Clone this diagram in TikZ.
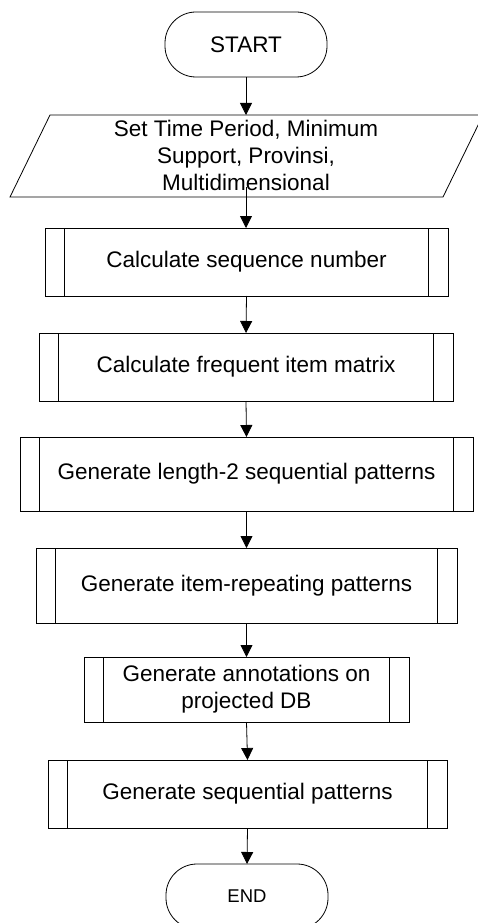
\documentclass[tikz,border=0pt]{standalone}
\usepackage{fontspec}
\setmainfont{Liberation Sans}
\usetikzlibrary{arrows.meta}
\begin{document}
\begin{tikzpicture}[x=1pt,y=-1pt,
  every node/.style={font=\fontsize{22.5}{27}\selectfont, inner sep=0pt, outer sep=0pt},
  term/.style={draw, line width=0.8pt, rounded corners=31pt, minimum width=162pt, minimum height=65pt},
  proc/.style={draw, line width=0.8pt, align=center, minimum height=#1,
    path picture={
      \draw[line width=0.8pt] ([xshift=19.5pt]path picture bounding box.north west) -- ([xshift=19.5pt]path picture bounding box.south west);
      \draw[line width=0.8pt] ([xshift=-19.5pt]path picture bounding box.north east) -- ([xshift=-19.5pt]path picture bounding box.south east);
    }},
  flow/.style={draw, line width=0.8pt, -{Triangle[width=12pt,length=12pt]}}
]
\useasboundingbox (0,0) rectangle (477,923);

\node[term] (start) at (246,44.5) {START};

\coordinate (p1) at (50,115);
\coordinate (p2) at (483,115);
\coordinate (p3) at (443,197);
\coordinate (p4) at (10,197);
\draw[line width=0.8pt] (p1) -- (p2) -- (p3) -- (p4) -- cycle;
\node[align=center] (io) at (246,155) {Set Time Period, Minimum\\Support, Provinsi,\\Multidimensional};
\coordinate (iotop) at (246,115);
\coordinate (iobot) at (246,187);

\node[proc=68pt, minimum width=403pt] (b1) at (246.5,262) {Calculate sequence number};
\node[proc=68pt, minimum width=414pt] (b2) at (246,367) {Calculate frequent item matrix};
\node[proc=74pt, minimum width=453pt] (b3) at (246.5,474) {Generate length-2 sequential patterns};
\node[proc=75pt, minimum width=421pt] (b4) at (246.5,585.5) {Generate item-repeating patterns};
\node[proc=65pt, minimum width=325pt] (b5) at (246.5,689.5) {Generate annotations on\\projected DB};
\node[proc=68pt, minimum width=399pt] (b6) at (247.5,794) {Generate sequential patterns};

\node[term, font=\fontsize{18.5}{22}\selectfont] (end) at (247,896.5) {END};

\draw[flow] (start.south) -- (iotop);
\draw[flow] (iobot) -- (iobot |- b1.north);
\draw[flow] (b1.south) -- (b2.north);
\draw[flow] (b2.south) -- (b3.north);
\draw[flow] (b3.south) -- (b4.north);
\draw[flow] (b4.south) -- (b5.north);
\draw[flow] (b5.south) -- (b6.north);
\draw[flow] (b6.south) -- (end.north);
\end{tikzpicture}
\end{document}
